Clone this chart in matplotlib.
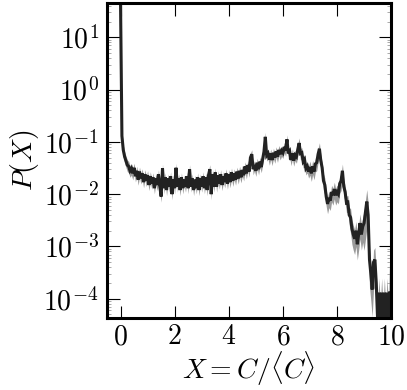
import numpy as np
import matplotlib
matplotlib.use("Agg")
import matplotlib.pyplot as plt
from matplotlib.ticker import FuncFormatter, FixedLocator, LogLocator, NullFormatter

plt.rcParams['mathtext.fontset'] = 'cm'
plt.rcParams['font.family'] = 'serif'
plt.rcParams['font.serif'] = ['DejaVu Serif']

# x grid (bin centres of X = C/<C>), step 0.05 from 0 to 9.95
x_start = 0.0
x_step = 0.05
# P(X) values, one row per 0.5 units of X
p_rows = [
    [40, 0.13, 0.07, 0.052, 0.043, 0.036, 0.034, 0.028, 0.031, 0.025],
    [0.032, 0.022, 0.028, 0.019, 0.027, 0.020, 0.025, 0.017, 0.024, 0.018],
    [0.023, 0.015, 0.022, 0.016, 0.021, 0.013, 0.020, 0.015, 0.024, 0.014],
    [0.009, 0.031, 0.013, 0.021, 0.012, 0.020, 0.014, 0.022, 0.010, 0.019],
    [0.013, 0.032, 0.014, 0.020, 0.012, 0.021, 0.013, 0.019, 0.014, 0.022],
    [0.013, 0.030, 0.014, 0.020, 0.012, 0.019, 0.013, 0.021, 0.012, 0.020],
    [0.014, 0.022, 0.013, 0.021, 0.012, 0.023, 0.030, 0.010, 0.024, 0.014],
    [0.026, 0.014, 0.023, 0.016, 0.024, 0.015, 0.022, 0.017, 0.025, 0.016],
    [0.024, 0.017, 0.026, 0.018, 0.025, 0.019, 0.027, 0.020, 0.028, 0.021],
    [0.029, 0.023, 0.034, 0.025, 0.036, 0.027, 0.050, 0.058, 0.030, 0.036],
    [0.028, 0.040, 0.030, 0.042, 0.033, 0.046, 0.065, 0.125, 0.055, 0.060],
    [0.046, 0.060, 0.045, 0.062, 0.050, 0.066, 0.052, 0.070, 0.058, 0.068],
    [0.062, 0.080, 0.068, 0.112, 0.060, 0.066, 0.045, 0.060, 0.044, 0.056],
    [0.052, 0.072, 0.095, 0.060, 0.062, 0.042, 0.046, 0.031, 0.034, 0.027],
    [0.033, 0.025, 0.034, 0.027, 0.038, 0.040, 0.058, 0.074, 0.044, 0.032],
    [0.018, 0.015, 0.009, 0.0065, 0.0085, 0.0075, 0.011, 0.0095, 0.0125, 0.0095],
    [0.011, 0.010, 0.016, 0.018, 0.028, 0.014, 0.011, 0.0068, 0.0070, 0.0040],
    [0.0036, 0.0022, 0.0017, 0.0014, 0.0020, 0.0011, 0.0017, 0.0028, 0.0017, 0.0024],
    [0.0028, 0.0045, 0.0072, 0.0040, 0.00056, 0.00030, 0.00015, 0.00050, 0.00056, 0.00020],
    [0.00004, 0.00013, 0.00004, 0.00013, 0.00004, 0.00013, 0.00004, 0.00013, 0.00004, 0.00013],
]
# relative half-width of the grey band, one value per row
band_rel = [0.25, 0.22, 0.22, 0.22, 0.22, 0.22, 0.22, 0.22, 0.22, 0.22,
            0.22, 0.22, 0.22, 0.25, 0.3, 0.35, 0.35, 0.5, 0.7, 0.9]
upper_boost_last = 6.0

xticks = [0, 2, 4, 6, 8, 10]
yticks = [1e-4, 1e-3, 1e-2, 1e-1, 1e0, 1e1]

p = np.array([v for row in p_rows for v in row], dtype=float)
x = x_start + x_step * np.arange(len(p))
rel = np.repeat(band_rel, len(p_rows[0]))
lo = p * (1 - rel)
hi = p * (1 + rel)
hi[-1] = p[-1] * upper_boost_last

fig = plt.figure(figsize=(4.07, 3.90), dpi=100)
ax = fig.add_axes([0.263, 0.185, 0.698, 0.808])
ax.fill_between(x, np.clip(lo, 1e-6, None), hi, color='#9a9a9a', lw=0)
ax.plot(x, p, color='#222222', lw=2.2, solid_joinstyle='miter')

ax.set_yscale('log')
ax.set_xlim(-0.5, 10.0)
ax.set_ylim(4.3e-5, 46)

ax.xaxis.set_major_locator(FixedLocator(xticks))
ax.xaxis.set_major_formatter(FuncFormatter(lambda v, pos: r'$%d$' % v))
ax.yaxis.set_major_locator(FixedLocator(yticks))
ax.yaxis.set_major_formatter(FuncFormatter(lambda v, pos: r'$10^{%d}$' % int(round(np.log10(v)))))
ax.yaxis.set_minor_locator(LogLocator(base=10, subs=np.arange(2, 10), numticks=20))
ax.yaxis.set_minor_formatter(NullFormatter())

ax.tick_params(which='major', direction='in', top=True, right=True, length=9, width=0.8,
               labelsize=20, pad=6)
ax.tick_params(axis='x', which='major', pad=4)
ax.tick_params(which='minor', direction='in', left=True, right=True, length=3, width=0.5,
               color='#888888')
for s in ax.spines.values():
    s.set_linewidth(2.2)

ax.set_xlabel(r'$X = C/\langle C\rangle$', fontsize=20, labelpad=-1)
ax.set_ylabel(r'$P(X)$', fontsize=20, labelpad=2)

fig.savefig('out.png', dpi=100)
